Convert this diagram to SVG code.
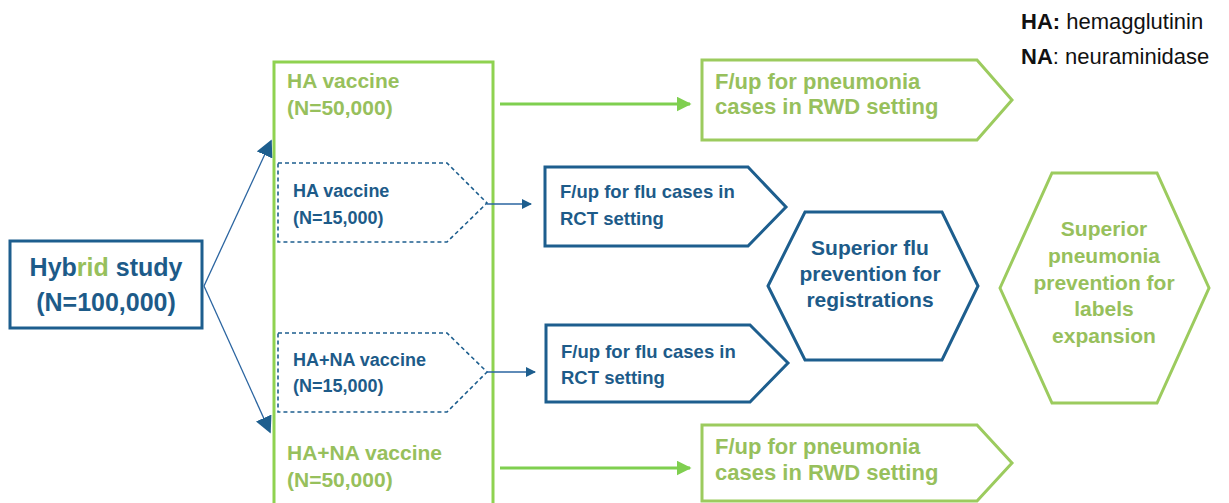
<svg xmlns="http://www.w3.org/2000/svg" width="1229" height="503" viewBox="0 0 1229 503">
<defs>
<style>
.t{font-family:"Liberation Sans",Arial,sans-serif;font-weight:bold}
.b{fill:#1d5b89}
.g{fill:#97c05c}
.bs{fill:#fff;stroke:#1d5e8e;stroke-width:3}
.gs{fill:#fff;stroke:#9ccb5e;stroke-width:3}
.ds{fill:#fff;stroke:#1d5e8e;stroke-width:1.6;stroke-dasharray:4 3}
.bl{stroke:#2a64a0;stroke-width:1.3;fill:none}
.gl{stroke:#7fcf4f;stroke-width:3;fill:none}
</style>
<marker id="ab" viewBox="0 0 10 10" refX="9" refY="5" markerWidth="10" markerHeight="10" markerUnits="userSpaceOnUse" orient="auto"><path d="M0,0 L10,5 L0,10 z" fill="#1d5e8e"/></marker>
<marker id="abs" viewBox="0 0 10 10" refX="9" refY="5" markerWidth="17" markerHeight="17" markerUnits="userSpaceOnUse" orient="auto"><path d="M0,0 L10,5 L0,10 z" fill="#1d5e8e"/></marker>
<marker id="ag" viewBox="0 0 10 10" refX="9" refY="5" markerWidth="5" markerHeight="5" orient="auto"><path d="M0,0 L10,5 L0,10 z" fill="#7fcf4f"/></marker>
</defs>
<rect width="1229" height="503" fill="#fff"/>

<g id="legend">
<text x="1021" y="29" font-family="'Liberation Sans',Arial,sans-serif" font-size="22" fill="#111"><tspan font-weight="bold">HA:</tspan> hemagglutinin</text>
<text x="1021" y="64" font-family="'Liberation Sans',Arial,sans-serif" font-size="22" fill="#111"><tspan font-weight="bold">NA</tspan>: neuraminidase</text>
</g>

<g id="hybrid">
<rect x="10" y="241" width="192" height="87" class="bs"/>
<text x="106" y="276" text-anchor="middle" class="t b" font-size="25">Hyb<tspan class="g">rid</tspan> study</text>
<text x="106" y="311" text-anchor="middle" class="t b" font-size="25">(N=100,000)</text>
</g>

<g id="group">
<rect x="274" y="62" width="219" height="445" fill="none" stroke="#8fd250" stroke-width="3"/>
<text x="287" y="88" class="t g" font-size="21">HA vaccine</text>
<text x="287" y="115" class="t g" font-size="21">(N=50,000)</text>
<text x="287" y="460" class="t g" font-size="21">HA+NA vaccine</text>
<text x="287" y="487" class="t g" font-size="21">(N=50,000)</text>
</g>

<g id="ha15">
<path d="M278,163 L447,163 L487,203 L447,242 L278,242 Z" class="ds"/>
<text x="293" y="197" class="t b" font-size="18">HA vaccine</text>
<text x="293" y="224" class="t b" font-size="18">(N=15,000)</text>
</g>

<g id="hana15">
<path d="M278,333 L447,333 L487,372 L447,412 L278,412 Z" class="ds"/>
<text x="293" y="366" class="t b" font-size="18">HA+NA vaccine</text>
<text x="293" y="392" class="t b" font-size="18">(N=15,000)</text>
</g>

<g id="rct1">
<path d="M545,167 L748,167 L786,207 L748,246 L545,246 Z" class="bs"/>
<text x="560" y="198" class="t b" font-size="18.5">F/up for flu cases in</text>
<text x="560" y="225" class="t b" font-size="18.5">RCT setting</text>
</g>

<g id="rct2">
<path d="M546,325 L750,325 L788,363 L750,402 L546,402 Z" class="bs"/>
<text x="561" y="358" class="t b" font-size="18.5">F/up for flu cases in</text>
<text x="561" y="384" class="t b" font-size="18.5">RCT setting</text>
</g>

<g id="rwd1">
<path d="M702,60 L977,60 L1012,100 L977,140 L702,140 Z" class="gs"/>
<text x="715" y="89" class="t g" font-size="22">F/up for pneumonia</text>
<text x="715" y="114" class="t g" font-size="22">cases in RWD setting</text>
</g>

<g id="rwd2">
<path d="M702,425 L977,425 L1012,463 L977,501 L702,501 Z" class="gs"/>
<text x="715" y="454" class="t g" font-size="22">F/up for pneumonia</text>
<text x="715" y="480" class="t g" font-size="22">cases in RWD setting</text>
</g>

<g id="flu">
<path d="M768,286 L805,212 L942,212 L978,286 L942,360 L805,360 Z" class="bs"/>
<text x="870" y="255" text-anchor="middle" class="t b" font-size="21">Superior flu</text>
<text x="870" y="281" text-anchor="middle" class="t b" font-size="21">prevention for</text>
<text x="870" y="307" text-anchor="middle" class="t b" font-size="21">registrations</text>
</g>

<g id="pneumonia">
<path d="M1000,288 L1052,173 L1157,173 L1209,288 L1157,403 L1052,403 Z" class="gs"/>
<text x="1104" y="236" text-anchor="middle" class="t g" font-size="21">Superior</text>
<text x="1104" y="263" text-anchor="middle" class="t g" font-size="21">pneumonia</text>
<text x="1104" y="290" text-anchor="middle" class="t g" font-size="21">prevention for</text>
<text x="1104" y="316" text-anchor="middle" class="t g" font-size="21">labels</text>
<text x="1104" y="343" text-anchor="middle" class="t g" font-size="21">expansion</text>
</g>

<g id="connectors">
<line x1="204" y1="286" x2="271" y2="141" class="bl" marker-end="url(#abs)"/>
<line x1="204" y1="286" x2="270" y2="432" class="bl" marker-end="url(#abs)"/>
<line x1="487" y1="204" x2="531" y2="204" class="bl" marker-end="url(#ab)"/>
<line x1="487" y1="372" x2="535" y2="372" class="bl" marker-end="url(#ab)"/>
<line x1="500" y1="104" x2="690" y2="104" class="gl" marker-end="url(#ag)"/>
<line x1="500" y1="468" x2="690" y2="468" class="gl" marker-end="url(#ag)"/>
</g>
</svg>
